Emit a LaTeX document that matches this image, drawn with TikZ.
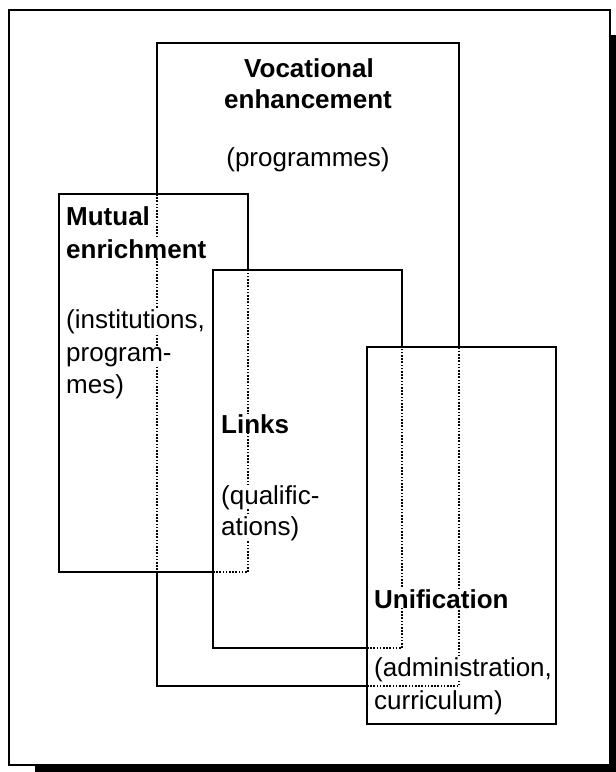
\documentclass[tikz,border=0pt]{standalone}
\usepackage{fontspec}
\setmainfont{Liberation Sans}
\begin{document}
\begin{tikzpicture}[x=1pt,y=-1pt,
  area/.style={rectangle,draw=none,inner sep=0pt,outer sep=0pt,anchor=north west},
  edge/.style={line width=2.6pt,line cap=rect,line join=miter},
  hidden/.style={line width=1.6pt,dash pattern=on 1.6pt off 1.6pt},
  title/.style={font=\fontsize{26}{30}\selectfont\bfseries,inner sep=0pt,fill=white,anchor=base west},
  note/.style={font=\fontsize{26}{30}\selectfont,inner sep=0pt,fill=white,anchor=base west},
]
\useasboundingbox (0,0) rectangle (616,772);

% outer frame with drop shadow
\fill (35,35) rectangle (616,772);
\filldraw[fill=white,line width=2pt] (9,10) rectangle (610,765);

% areas of the four overlapping boxes
\node[area,minimum width=302pt,minimum height=643pt] (voc) at (157,43) {};
\node[area,minimum width=189pt,minimum height=378pt] (mut) at (59,194) {};
\node[area,minimum width=189pt,minimum height=378pt] (lnk) at (213,270) {};
\node[area,minimum width=189pt,minimum height=377pt] (uni) at (367,347) {};

% edges hidden behind a box in front
\draw[hidden] (voc.west |- mut.north) -- (voc.west |- mut.south);
\draw[hidden] (uni.west |- voc.south) -- (voc.south east) -- (voc.east |- uni.north);
\draw[hidden] (lnk.west |- mut.south) -- (mut.south east) -- (mut.east |- lnk.north);
\draw[hidden] (uni.west |- lnk.south) -- (lnk.south east) -- (lnk.east |- uni.north);

% labels
\node[title,anchor=base] (vt1) at (309,77) {Vocational};
\node[title,anchor=base] (vt2) at (308,108) {enhancement};
\node[note,anchor=base] (vn1) at (308,166) {(programmes)};

\node[title] (mt1) at (66,225) {Mutual};
\node[title] (mt2) at (66,258) {enrichment};
\node[note] (mn1) at (66,328) {(institutions,};
\node[note] (mn2) at (66,361) {program-};
\node[note] (mn3) at (66,393) {mes)};

\node[title] (lt1) at (221,433) {Links};
\node[note] (ln1) at (221,504) {(qualific-};
\node[note] (ln2) at (221,535) {ations)};

\node[title] (ut1) at (374,608) {Unification};
\node[note] (un1) at (374,676) {(administration,};
\node[note] (un2) at (374,709) {curriculum)};

% visible edges
\draw[edge] (voc.west |- mut.north) -- (voc.north west) -- (voc.north east) -- (voc.east |- uni.north);
\draw[edge] (voc.west |- mut.south) -- (voc.south west) -- (uni.west |- voc.south);
\draw[edge] (mut.east |- lnk.north) -- (mut.north east) -- (mut.north west) -- (mut.south west) -- (lnk.west |- mut.south);
\draw[edge] (uni.west |- lnk.south) -- (lnk.south west) -- (lnk.north west) -- (lnk.north east) -- (lnk.east |- uni.north);
\draw[edge] (uni.north west) rectangle (uni.south east);
\end{tikzpicture}
\end{document}
